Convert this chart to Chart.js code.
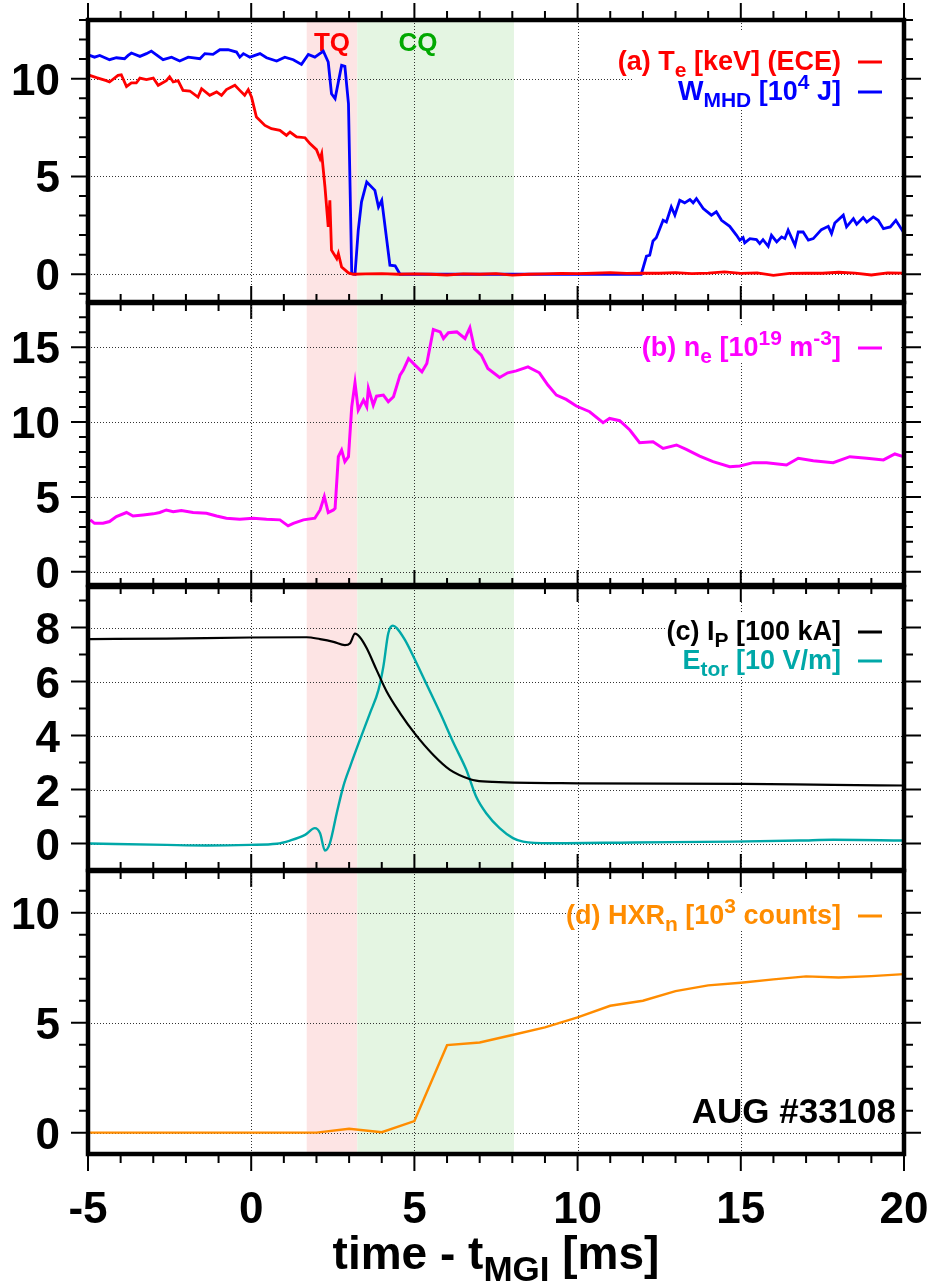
<!DOCTYPE html>
<html>
<head>
<meta charset="utf-8">
<script src="https://cdn.jsdelivr.net/npm/chart.js@4.4.0/dist/chart.umd.min.js"></script>
<style>
  html, body { margin: 0; padding: 0; background: #fff; }
  #wrap { position: relative; width: 936px; height: 1288px; }
  #wrap canvas { position: absolute; left: 0; top: 0; }
</style>
</head>
<body>
<div id="wrap">
  <canvas id="panelA" width="936" height="1288"></canvas>
  <canvas id="panelB" width="936" height="1288"></canvas>
  <canvas id="panelC" width="936" height="1288"></canvas>
  <canvas id="panelD" width="936" height="1288"></canvas>
</div>
<script>
'use strict';

// ── Data ──────────────────────────────────────────────────────────────────────

const X_MIN = -5, X_MAX = 20;
const X_TICKS = [-5, 0, 5, 10, 15, 20];
const X_TICK_LABELS = ['-5', '0', '5', '10', '15', '20'];
const X_GRID = [0, 5, 10, 15];
const TQ_SPAN = [1.7, 3.25];
const CQ_SPAN = [3.25, 8.05];

// (a) Te [keV]
const teTime = [-4.95, -4.74, -4.44, -4.34, -4.08, -3.98, -3.82, -3.67, -3.52, -3.41, -3.21, -3.0, -2.85, -2.6, -2.5,
  -2.39, -2.24, -2.09, -1.88, -1.63, -1.52, -1.27, -1.06, -0.91, -0.76, -0.5, -0.35, -0.2, -0.09, 0.01, 0.16, 0.42,
  0.62, 0.88, 1.08, 1.19, 1.39, 1.65, 1.8, 2.0, 2.11, 2.16, 2.26, 2.36, 2.41, 2.46, 2.62, 2.67, 2.77, 2.98, 3.13,
  3.5, 4.0, 4.5, 5.0, 5.5, 6.0, 6.5, 7.0, 7.5, 8.0, 8.5, 9.0, 9.5, 10.0, 10.5, 11.0, 11.5, 12.0, 12.5, 13.0, 13.5,
  14.0, 14.5, 15.0, 15.5, 16.0, 16.5, 17.0, 17.5, 18.0, 18.5, 19.0, 19.5, 20.0];
const teVal = [10.17, 10.05, 9.9, 9.83, 10.17, 10.2, 9.6, 9.78, 9.78, 10.03, 9.95, 10.03, 9.66, 9.9, 10.1,
  9.83, 9.9, 9.4, 9.37, 9.06, 9.49, 9.15, 9.32, 9.15, 9.44, 9.66, 9.4, 9.15, 9.44, 9.06, 8.04, 7.61,
  7.44, 7.36, 7.1, 7.27, 7.02, 6.98, 6.68, 6.37, 5.91, 6.17, 4.46, 2.42, 3.78, 1.23, 0.8, 1.06, 0.37, 0.07, 0.0,
  0.02, 0.03, 0.0, 0.02, 0.0, -0.04, 0.02, 0.0, 0.03, -0.05, 0.0, 0.02, 0.04, 0.03, 0.05, 0.08, 0.04, 0.06, 0.05, 0.08, 0.03,
  0.06, 0.12, 0.04, 0.07, -0.06, 0.04, 0.06, 0.05, 0.1, 0.06, -0.04, 0.07, 0.06];

// (a) W_MHD [1e4 J]
const wTime = [-4.95, -4.8, -4.64, -4.34, -4.13, -3.88, -3.77, -3.67, -3.41, -3.21, -3.06, -2.7, -2.44, -2.19, -1.93,
  -1.57, -1.42, -1.17, -0.96, -0.71, -0.45, -0.35, -0.24, -0.04, 0.27, 0.47, 0.78, 1.03, 1.29, 1.54, 1.75, 1.95, 2.21,
  2.36, 2.46, 2.57, 2.77, 2.87, 2.98, 3.08, 3.18, 3.28, 3.38, 3.54, 3.79, 3.9, 4.0, 4.25, 4.41, 4.56, 8.0, 11.95,
  12.11, 12.21, 12.31, 12.41, 12.62, 12.72, 12.87, 12.98, 13.13, 13.28, 13.44, 13.54, 13.64, 13.85, 14.1, 14.25,
  14.41, 14.66, 14.87, 14.97, 15.07, 15.12, 15.28, 15.48, 15.58, 15.68, 15.84, 15.94, 16.1, 16.25, 16.35, 16.45,
  16.66, 16.76, 16.91, 17.07, 17.22, 17.47, 17.68, 17.78, 17.88, 18.14, 18.24, 18.45, 18.55, 18.75, 18.86, 19.06,
  19.21, 19.37, 19.58, 19.75, 19.98];
const wVal = [11.19, 11.1, 11.19, 10.97, 11.07, 11.02, 11.19, 11.31, 11.14, 11.28, 11.41, 10.97, 11.1, 10.9, 11.1,
  11.02, 11.28, 11.24, 11.48, 11.48, 11.36, 11.1, 11.28, 11.1, 11.28, 11.07, 10.9, 11.1, 10.97, 10.73, 11.24, 11.1, 11.41,
  10.85, 9.23, 8.98, 10.68, 10.63, 8.72, 0.03, 0.0, 2.25, 3.7, 4.72, 4.29, 3.44, 3.78, 0.46, 0.43, 0.0, 0.0, 0.0,
  0.92, 0.97, 1.7, 1.87, 2.76, 2.67, 3.44, 3.02, 3.78, 3.65, 3.82, 3.65, 3.87, 3.36, 3.02, 3.19,
  2.76, 2.45, 1.99, 1.74, 1.87, 1.6, 1.82, 1.77, 1.57, 1.77, 1.43, 1.99, 1.65, 1.91, 1.82, 2.25,
  1.48, 2.16, 2.16, 1.74, 1.82, 2.28, 2.45, 2.08, 2.62, 3.02, 2.42, 2.84, 2.56, 2.9, 2.67, 2.93,
  2.76, 2.33, 2.42, 2.76, 2.16];

// (b) ne [1e19 m^-3]
const neTime = [-4.93, -4.8, -4.54, -4.34, -4.13, -3.82, -3.62, -3.31, -3.0, -2.8, -2.6, -2.39, -2.14, -1.78, -1.37,
  -1.06, -0.76, -0.35, 0.06, 0.47, 0.88, 1.13, 1.29, 1.6, 1.95, 2.11, 2.24, 2.36, 2.52, 2.57, 2.67, 2.77, 2.87, 2.98,
  3.08, 3.18, 3.28, 3.44, 3.54, 3.59, 3.74, 3.84, 4.05, 4.2, 4.36, 4.56, 4.66, 4.82, 5.02, 5.23, 5.38, 5.58, 5.79,
  5.89, 6.04, 6.3, 6.55, 6.7, 6.84, 7.05, 7.25, 7.61, 7.86, 8.12, 8.48, 8.83, 9.09, 9.35, 9.65, 9.96, 10.37, 10.78,
  10.98, 11.29, 11.6, 11.9, 12.31, 12.62, 13.03, 13.33, 13.74, 14.15, 14.66, 14.97, 15.38, 15.79, 16.4, 16.76, 17.22,
  17.83, 18.34, 18.86, 19.37, 19.72, 19.98];
const neVal = [3.47, 3.24, 3.24, 3.36, 3.69, 3.96, 3.73, 3.8, 3.87, 3.96, 4.13, 4.02, 4.09, 3.96, 3.91,
  3.73, 3.58, 3.51, 3.58, 3.51, 3.47, 3.07, 3.24, 3.47, 3.58, 4.13, 5.02, 3.96, 4.13, 4.24, 7.69, 8.13, 7.36, 7.69,
  11.02, 12.62, 10.8, 11.47, 11.02, 12.24, 11.13, 11.73, 11.8, 11.36, 11.69, 13.13, 13.47, 14.24, 13.8, 13.36, 13.91, 16.18, 16.02,
  15.58, 15.96, 16.02, 15.58, 16.3, 14.9, 14.47, 13.58, 12.98, 13.29, 13.42, 13.69, 13.29, 12.47, 11.8, 11.51, 11.07, 10.69, 9.96,
  10.24, 10.09, 9.47, 8.62, 8.69, 8.24, 8.47, 8.18, 7.73, 7.36, 7.02, 7.07, 7.29, 7.29, 7.13, 7.58, 7.42,
  7.29, 7.69, 7.58, 7.47, 7.87, 7.69];

// (c) Ip [100 kA]
const ipTime = [-4.95, -2.6, -0.04, 1.7, 2.11, 2.52, 2.87, 3.03, 3.18, 3.33, 3.54, 3.84, 4.15, 4.56, 5.02, 5.58,
  6.09, 6.71, 6.89, 7.4, 10.06, 15.07, 17.83, 19.98];
const ipVal = [7.57, 7.59, 7.63, 7.64, 7.57, 7.47, 7.35, 7.42, 7.77, 7.64, 7.23, 6.43, 5.63, 4.83, 4.06, 3.28,
  2.73, 2.38, 2.33, 2.28, 2.23, 2.21, 2.17, 2.15];

// (c) Etor [10 V/m]
const etTime = [-4.95, -2.6, -1.37, -0.04, 0.78, 1.19, 1.65, 1.95, 2.11, 2.26, 2.41, 2.62, 2.82, 3.03, 3.33, 3.64,
  3.9, 4.05, 4.2, 4.34, 4.46, 4.71, 5.02, 5.38, 5.79, 6.2, 6.59, 6.89, 7.2, 7.61, 8.02, 8.33, 9.14, 11.7, 14.77,
  16.81, 17.83, 19.98];
const etVal = [0.0, -0.05, -0.07, -0.05, -0.01, 0.11, 0.32, 0.57, 0.38, -0.26, 0.01, 1.12, 2.11, 2.85, 3.84, 4.83,
  5.69, 6.56, 7.79, 8.07, 7.98, 7.54, 6.8, 5.88, 4.83, 3.72, 2.73, 1.74, 1.12, 0.57, 0.2, 0.07, 0.01, 0.04, 0.07,
  0.11, 0.14, 0.11];

// (d) HXR_n [1e3 counts]
const hxrTime = [-5, -4, -3, -2, -1, 0, 1, 2, 3, 4, 5, 6, 7, 8, 9, 10, 11, 12, 13, 14, 15, 16, 17, 18, 19, 20];
const hxrVal = [0, 0, 0, 0, 0, 0, 0, 0, 0.18, 0.02, 0.53, 3.98, 4.1, 4.44, 4.79, 5.24, 5.77, 6.0, 6.44, 6.7, 6.82,
  6.97, 7.11, 7.06, 7.12, 7.21];

// ── Style ─────────────────────────────────────────────────────────────────────

const FONT = "'Liberation Sans', Arial, Helvetica, sans-serif";
const RED = '#ff0000', BLUE = '#0000ff', MAGENTA = '#ff00ff', BLACK = '#000000';
const TEAL = '#00a8a8', ORANGE = '#ff8c00', GREEN_TXT = '#00a800';
const TQ_FILL = '#fde4e4', CQ_FILL = '#e4f5e2';

function pts(xs, ys) {
  return xs.map((x, i) => ({ x, y: ys[i] }));
}

function series(xs, ys, color, width, smooth) {
  return {
    data: pts(xs, ys),
    borderColor: color,
    backgroundColor: 'transparent',
    borderWidth: width,
    pointRadius: 0,
    tension: smooth ? 0.4 : 0,
    cubicInterpolationMode: smooth ? 'monotone' : 'default',
  };
}

// ── Rich text (sub/superscripts) ──────────────────────────────────────────────

function segFont(kind, size) {
  return `bold ${kind ? Math.round(size * 0.76) : size}px ${FONT}`;
}

function richWidth(ctx, segs, size) {
  let w = 0;
  for (const [t, kind] of segs) {
    ctx.font = segFont(kind, size);
    w += ctx.measureText(t).width;
  }
  return w;
}

function drawRich(ctx, segs, x, baseline, size, color) {
  ctx.fillStyle = color;
  ctx.textAlign = 'left';
  ctx.textBaseline = 'alphabetic';
  for (const [t, kind] of segs) {
    ctx.font = segFont(kind, size);
    const dy = kind === 'sub' ? size * 0.27 : kind === 'sup' ? -size * 0.4 : 0;
    ctx.fillText(t, x, baseline + dy);
    x += ctx.measureText(t).width;
  }
}

// ── Panel plugin: shading, grid, frame, ticks, labels, key ───────────────────

function panelPlugin(p) {
  return {
    id: 'panel' + p.name,
    beforeDatasetsDraw(chart) {
      const { ctx, chartArea: a, scales: { x, y } } = chart;
      ctx.save();
      const tq0 = x.getPixelForValue(TQ_SPAN[0]), tq1 = x.getPixelForValue(TQ_SPAN[1]);
      const cq0 = x.getPixelForValue(CQ_SPAN[0]), cq1 = x.getPixelForValue(CQ_SPAN[1]);
      ctx.fillStyle = TQ_FILL;
      ctx.fillRect(tq0, a.top, tq1 - tq0, a.bottom - a.top);
      ctx.fillStyle = CQ_FILL;
      ctx.fillRect(cq0, a.top, cq1 - cq0, a.bottom - a.top);

      ctx.strokeStyle = '#333';
      ctx.lineWidth = 1;
      ctx.setLineDash([1, 2]);
      ctx.beginPath();
      for (const v of X_GRID) {
        const px = Math.round(x.getPixelForValue(v)) + 0.5;
        ctx.moveTo(px, a.top);
        ctx.lineTo(px, a.bottom);
      }
      for (const v of p.yMajor) {
        const py = Math.round(y.getPixelForValue(v)) + 0.5;
        ctx.moveTo(a.left, py);
        ctx.lineTo(a.right, py);
      }
      ctx.stroke();
      ctx.setLineDash([]);

      // opaque key box
      ctx.fillStyle = '#fff';
      const [bx0, by0, bx1, by1] = p.keyBox;
      ctx.fillRect(bx0, by0, bx1 - bx0, by1 - by0);

      if (p.phaseLabels) {
        ctx.font = `bold 26px ${FONT}`;
        ctx.textAlign = 'center';
        ctx.textBaseline = 'alphabetic';
        ctx.fillStyle = RED;
        ctx.fillText('TQ', (tq0 + tq1) / 2, 51);
        ctx.fillStyle = GREEN_TXT;
        ctx.fillText('CQ', 418, 51);
      }
      ctx.restore();
    },
    afterDraw(chart) {
      const { ctx, chartArea: a, scales: { x, y } } = chart;
      ctx.save();

      // ticks (outward, all four sides)
      ctx.strokeStyle = BLACK;
      ctx.lineWidth = 2;
      ctx.beginPath();
      for (let v = X_MIN; v <= X_MAX; v++) {
        const px = x.getPixelForValue(v);
        const len = X_TICKS.includes(v) ? 17 : 9;
        ctx.moveTo(px, a.top);
        ctx.lineTo(px, a.top - len);
        ctx.moveTo(px, a.bottom);
        ctx.lineTo(px, a.bottom + len);
      }
      for (let v = Math.ceil(y.min); v <= y.max; v++) {
        const py = y.getPixelForValue(v);
        const len = p.yMajor.includes(v) ? 17 : 9;
        ctx.moveTo(a.left, py);
        ctx.lineTo(a.left - len, py);
        ctx.moveTo(a.right, py);
        ctx.lineTo(a.right + len, py);
      }
      ctx.stroke();

      // frame
      ctx.lineWidth = 4.5;
      ctx.strokeRect(a.left, a.top, a.right - a.left, a.bottom - a.top);

      // y tick labels
      ctx.fillStyle = BLACK;
      ctx.font = `bold 44px ${FONT}`;
      ctx.textAlign = 'right';
      ctx.textBaseline = 'alphabetic';
      p.yMajor.forEach((v, i) => {
        ctx.fillText(p.yLabels[i], 60, y.getPixelForValue(v) + 16);
      });

      // key entries
      for (const k of p.key) {
        const w = richWidth(ctx, k.segs, 27);
        drawRich(ctx, k.segs, 841 - w, k.baseline, 27, k.color);
        ctx.strokeStyle = k.color;
        ctx.lineWidth = 3;
        ctx.beginPath();
        ctx.moveTo(858, k.baseline - 8);
        ctx.lineTo(882, k.baseline - 8);
        ctx.stroke();
      }

      if (p.bottom) {
        // x tick labels
        ctx.fillStyle = BLACK;
        ctx.font = `bold 44px ${FONT}`;
        ctx.textAlign = 'center';
        X_TICKS.forEach((v, i) => {
          ctx.fillText(X_TICK_LABELS[i], x.getPixelForValue(v), 1223);
        });
        // x title
        const title = [['time - t', ''], ['MGI', 'sub'], [' [ms]', '']];
        const tw = richWidth(ctx, title, 46);
        drawRich(ctx, title, 496 - tw / 2, 1269, 46, BLACK);
        // shot number
        ctx.font = `bold 35px ${FONT}`;
        ctx.textAlign = 'right';
        ctx.fillStyle = BLACK;
        ctx.fillText('AUG #33108', 896, 1123);
      }
      ctx.restore();
    },
  };
}

// ── Panels ────────────────────────────────────────────────────────────────────

function makePanel(canvasId, p, datasets) {
  return new Chart(document.getElementById(canvasId), {
    type: 'line',
    data: { datasets },
    options: {
      responsive: false,
      animation: false,
      devicePixelRatio: 1,
      layout: { padding: { left: 88, right: 32, top: p.top, bottom: 1288 - p.bottomPx } },
      scales: {
        x: { type: 'linear', min: X_MIN, max: X_MAX, display: false },
        y: { type: 'linear', min: p.yMin, max: p.yMax, display: false },
      },
      plugins: { legend: { display: false }, tooltip: { enabled: false } },
      elements: { point: { radius: 0 } },
    },
    plugins: [panelPlugin(p)],
  });
}

makePanel('panelA', {
  name: 'A', top: 20, bottomPx: 302, yMin: -1.42, yMax: 13.0,
  yMajor: [0, 5, 10], yLabels: ['0', '5', '10'],
  keyBox: [633, 32, 900, 108], phaseLabels: true,
  key: [
    { segs: [['(a) T', ''], ['e', 'sub'], [' [keV] (ECE)', '']], baseline: 70, color: RED },
    { segs: [['W', ''], ['MHD', 'sub'], [' [10', ''], ['4', 'sup'], [' J]', '']], baseline: 100, color: BLUE },
  ],
}, [
  series(teTime, teVal, RED, 2.8),
  series(wTime, wVal, BLUE, 2.8),
]);

makePanel('panelB', {
  name: 'B', top: 303, bottomPx: 585, yMin: -0.88, yMax: 17.95,
  yMajor: [0, 5, 10, 15], yLabels: ['0', '5', '10', '15'],
  keyBox: [643, 327, 900, 361],
  key: [
    { segs: [['(b) n', ''], ['e', 'sub'], [' [10', ''], ['19', 'sup'], [' m', ''], ['-3', 'sup'], [']', '']], baseline: 356, color: MAGENTA },
  ],
}, [
  series(neTime, neVal, MAGENTA, 3),
]);

makePanel('panelC', {
  name: 'C', top: 587, bottomPx: 870, yMin: -0.98, yMax: 9.5,
  yMajor: [0, 2, 4, 6, 8], yLabels: ['0', '2', '4', '6', '8'],
  keyBox: [666, 614, 900, 674],
  key: [
    { segs: [['(c) I', ''], ['P', 'sub'], [' [100 kA]', '']], baseline: 640, color: BLACK },
    { segs: [['E', ''], ['tor', 'sub'], [' [10 V/m]', '']], baseline: 669, color: TEAL },
  ],
}, [
  series(ipTime, ipVal, BLACK, 2.2, true),
  series(etTime, etVal, TEAL, 2.4, true),
]);

makePanel('panelD', {
  name: 'D', top: 871, bottomPx: 1154, yMin: -0.97, yMax: 11.9,
  yMajor: [0, 5, 10], yLabels: ['0', '5', '10'], bottom: true,
  keyBox: [581, 893, 900, 929],
  key: [
    { segs: [['(d) HXR', ''], ['n', 'sub'], [' [10', ''], ['3', 'sup'], [' counts]', '']], baseline: 924, color: ORANGE },
  ],
}, [
  series(hxrTime, hxrVal, ORANGE, 2.4),
]);
</script>
</body>
</html>
